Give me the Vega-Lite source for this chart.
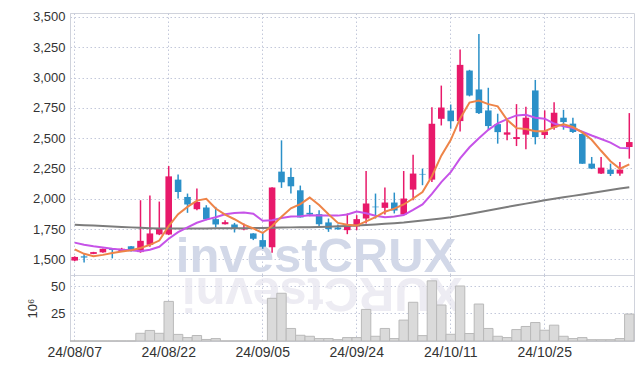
{
  "$schema": "https://vega.github.io/schema/vega-lite/v6.json",
  "background": "white",
  "padding": {"left": 26, "top": 10, "right": 5, "bottom": 5},
  "spacing": 0,
  "bounds": "flush",
  "config": {
    "font": "Liberation Sans",
    "view": {"stroke": "#d0d3dc", "strokeWidth": 1},
    "axis": {"domainColor": "#d0d3dc", "gridColor": "#c3c8da", "gridDash": [1.5, 2.5], "gridWidth": 1, "ticks": false, "labelColor": "#333", "labelFontSize": 13, "labelPadding": 5, "titleFontWeight": "normal", "labelOverlap": false, "labelSeparation": 0},
    "axisY": {"labelOverlap": false},
    "axisQuantitative": {"labelOverlap": false}
  },
  "datasets": {
    "p": [
      {"d":"24/08/07","o":1490,"h":1525,"l":1485,"c":1520,"v":0.1,"ma5":1582,"ma10":1638,"ma60":1785},
      {"d":"24/08/08","o":1525,"h":1545,"l":1475,"c":1515,"v":0.1,"ma5":1546,"ma10":1620,"ma60":1782},
      {"d":"24/08/09","o":1545,"h":1562,"l":1543,"c":1560,"v":0.1,"ma5":1525,"ma10":1608,"ma60":1779},
      {"d":"24/08/12","o":1558,"h":1590,"l":1555,"c":1587,"v":0.1,"ma5":1537,"ma10":1598,"ma60":1776},
      {"d":"24/08/13","o":1585,"h":1590,"l":1508,"c":1577,"v":0.1,"ma5":1552,"ma10":1588,"ma60":1772},
      {"d":"24/08/14","o":1570,"h":1595,"l":1565,"c":1587,"v":0.1,"ma5":1565,"ma10":1580,"ma60":1768},
      {"d":"24/08/16","o":1608,"h":1610,"l":1565,"c":1568,"v":0.1,"ma5":1576,"ma10":1575,"ma60":1764},
      {"d":"24/08/19","o":1560,"h":1988,"l":1555,"c":1653,"v":7,"ma5":1594,"ma10":1568,"ma60":1760},
      {"d":"24/08/20","o":1620,"h":2027,"l":1604,"c":1714,"v":9.6,"ma5":1620,"ma10":1580,"ma60":1757},
      {"d":"24/08/21","o":1706,"h":1977,"l":1700,"c":1755,"v":7,"ma5":1655,"ma10":1604,"ma60":1755},
      {"d":"24/08/22","o":1705,"h":2270,"l":1700,"c":2185,"v":36,"ma5":1775,"ma10":1670,"ma60":1754},
      {"d":"24/08/23","o":2158,"h":2200,"l":2002,"c":2056,"v":6,"ma5":1873,"ma10":1724,"ma60":1754},
      {"d":"24/08/26","o":2015,"h":2043,"l":1884,"c":1953,"v":3.1,"ma5":1933,"ma10":1764,"ma60":1754},
      {"d":"24/08/27","o":1914,"h":2084,"l":1906,"c":1974,"v":5,"ma5":1985,"ma10":1802,"ma60":1755},
      {"d":"24/08/28","o":1928,"h":1947,"l":1823,"c":1830,"v":1.4,"ma5":2000,"ma10":1828,"ma60":1755},
      {"d":"24/08/29","o":1832,"h":1933,"l":1763,"c":1788,"v":2.2,"ma5":1920,"ma10":1848,"ma60":1756},
      {"d":"24/08/30","o":1790,"h":1823,"l":1787,"c":1807,"v":0.1,"ma5":1870,"ma10":1872,"ma60":1756},
      {"d":"24/09/02","o":1788,"h":1801,"l":1722,"c":1756,"v":0.1,"ma5":1831,"ma10":1882,"ma60":1757},
      {"d":"24/09/03","o":1747,"h":1796,"l":1741,"c":1752,"v":0.1,"ma5":1787,"ma10":1886,"ma60":1757},
      {"d":"24/09/04","o":1714,"h":1716,"l":1659,"c":1670,"v":0.1,"ma5":1755,"ma10":1877,"ma60":1758},
      {"d":"24/09/05","o":1659,"h":1727,"l":1587,"c":1604,"v":0.1,"ma5":1718,"ma10":1819,"ma60":1759},
      {"d":"24/09/06","o":1600,"h":2095,"l":1555,"c":2093,"v":38.8,"ma5":1775,"ma10":1823,"ma60":1761},
      {"d":"24/09/09","o":2224,"h":2482,"l":2090,"c":2136,"v":43.4,"ma5":1851,"ma10":1841,"ma60":1763},
      {"d":"24/09/10","o":2180,"h":2257,"l":2043,"c":2103,"v":11.4,"ma5":1921,"ma10":1854,"ma60":1764},
      {"d":"24/09/11","o":2070,"h":2109,"l":1846,"c":1846,"v":5.2,"ma5":1956,"ma10":1856,"ma60":1765},
      {"d":"24/09/12","o":1884,"h":1949,"l":1856,"c":1870,"v":4.3,"ma5":2010,"ma10":1864,"ma60":1766},
      {"d":"24/09/13","o":1873,"h":1906,"l":1768,"c":1790,"v":2.2,"ma5":1949,"ma10":1862,"ma60":1768},
      {"d":"24/09/19","o":1805,"h":1837,"l":1727,"c":1750,"v":2.2,"ma5":1872,"ma10":1861,"ma60":1770},
      {"d":"24/09/20","o":1763,"h":1788,"l":1745,"c":1748,"v":1.2,"ma5":1801,"ma10":1861,"ma60":1773},
      {"d":"24/09/23","o":1741,"h":1879,"l":1708,"c":1774,"v":3.1,"ma5":1786,"ma10":1871,"ma60":1776},
      {"d":"24/09/24","o":1772,"h":1865,"l":1741,"c":1832,"v":3.1,"ma5":1779,"ma10":1894,"ma60":1780},
      {"d":"24/09/25","o":1837,"h":2229,"l":1796,"c":1961,"v":28.7,"ma5":1813,"ma10":1881,"ma60":1784},
      {"d":"24/09/26","o":1935,"h":2043,"l":1837,"c":1930,"v":4.3,"ma5":1849,"ma10":1860,"ma60":1788},
      {"d":"24/09/27","o":1925,"h":2093,"l":1870,"c":1969,"v":11.4,"ma5":1893,"ma10":1847,"ma60":1793},
      {"d":"24/09/30","o":1969,"h":2051,"l":1879,"c":1903,"v":2.2,"ma5":1919,"ma10":1853,"ma60":1798},
      {"d":"24/10/02","o":1870,"h":2229,"l":1866,"c":2002,"v":19,"ma5":1953,"ma10":1866,"ma60":1804},
      {"d":"24/10/04","o":2076,"h":2364,"l":1988,"c":2208,"v":35.2,"ma5":2002,"ma10":1908,"ma60":1812},
      {"d":"24/10/07","o":2205,"h":2249,"l":2112,"c":2200,"v":4.9,"ma5":2056,"ma10":1953,"ma60":1820},
      {"d":"24/10/08","o":2158,"h":2756,"l":2139,"c":2619,"v":54.7,"ma5":2186,"ma10":2040,"ma60":1828},
      {"d":"24/10/10","o":2660,"h":2934,"l":2605,"c":2753,"v":32.7,"ma5":2356,"ma10":2138,"ma60":1837},
      {"d":"24/10/11","o":2728,"h":2778,"l":2578,"c":2640,"v":6.1,"ma5":2484,"ma10":2219,"ma60":1847},
      {"d":"24/10/14","o":2641,"h":3231,"l":2556,"c":3105,"v":50,"ma5":2663,"ma10":2333,"ma60":1861},
      {"d":"24/10/15","o":3058,"h":3064,"l":2845,"c":2852,"v":6.8,"ma5":2794,"ma10":2425,"ma60":1875},
      {"d":"24/10/16","o":2902,"h":3360,"l":2700,"c":2707,"v":33.6,"ma5":2811,"ma10":2499,"ma60":1889},
      {"d":"24/10/17","o":2729,"h":2916,"l":2572,"c":2600,"v":11.4,"ma5":2781,"ma10":2569,"ma60":1903},
      {"d":"24/10/18","o":2616,"h":2702,"l":2455,"c":2550,"v":4.3,"ma5":2763,"ma10":2623,"ma60":1918},
      {"d":"24/10/21","o":2529,"h":2647,"l":2482,"c":2548,"v":3.1,"ma5":2651,"ma10":2657,"ma60":1932},
      {"d":"24/10/22","o":2493,"h":2781,"l":2435,"c":2509,"v":10.4,"ma5":2583,"ma10":2688,"ma60":1946},
      {"d":"24/10/23","o":2529,"h":2759,"l":2408,"c":2669,"v":13.2,"ma5":2575,"ma10":2693,"ma60":1960},
      {"d":"24/10/24","o":2894,"h":2981,"l":2449,"c":2509,"v":16.8,"ma5":2557,"ma10":2669,"ma60":1974},
      {"d":"24/10/25","o":2526,"h":2729,"l":2496,"c":2556,"v":9.8,"ma5":2558,"ma10":2661,"ma60":1988},
      {"d":"24/10/28","o":2587,"h":2797,"l":2570,"c":2710,"v":14.4,"ma5":2591,"ma10":2621,"ma60":2000},
      {"d":"24/10/29","o":2669,"h":2734,"l":2570,"c":2633,"v":4.3,"ma5":2615,"ma10":2599,"ma60":2012},
      {"d":"24/10/30","o":2620,"h":2669,"l":2542,"c":2551,"v":2.2,"ma5":2592,"ma10":2584,"ma60":2024},
      {"d":"24/10/31","o":2534,"h":2540,"l":2288,"c":2290,"v":3.1,"ma5":2548,"ma10":2553,"ma60":2036},
      {"d":"24/11/01","o":2290,"h":2345,"l":2245,"c":2249,"v":1.2,"ma5":2487,"ma10":2522,"ma60":2048},
      {"d":"24/11/04","o":2208,"h":2345,"l":2205,"c":2257,"v":1.2,"ma5":2396,"ma10":2493,"ma60":2060},
      {"d":"24/11/05","o":2241,"h":2290,"l":2188,"c":2205,"v":1.2,"ma5":2310,"ma10":2463,"ma60":2072},
      {"d":"24/11/06","o":2208,"h":2303,"l":2191,"c":2241,"v":2.2,"ma5":2248,"ma10":2420,"ma60":2084},
      {"d":"24/11/07","o":2427,"h":2707,"l":2331,"c":2468,"v":24.5,"ma5":2284,"ma10":2416,"ma60":2096}
    ]
  },
  "vconcat": [
    {
      "width": 564,
      "height": 262,
      "data": {"name": "p"},
      "encoding": {
        "x": {"field": "d", "type": "ordinal", "scale": {"type": "band", "paddingInner": 0, "paddingOuter": 0},
          "axis": {"values": ["24/08/07","24/08/22","24/09/05","24/09/24","24/10/11","24/10/25"], "labels": false, "title": null, "grid": true, "domain": false}}
      },
      "layer": [
        {
          "data": {"values": [{"t": "investCRUX", "d": "24/09/13", "y": 1395}]},
          "mark": {"type": "text", "font": "Liberation Sans", "fontWeight": "bold", "fontSize": 49, "color": "#d2d8e8", "align": "center", "baseline": "alphabetic", "dx": -3},
          "encoding": {
            "y": {"field": "y", "type": "quantitative", "scale": {"domain": [1371, 3533], "nice": false, "zero": false},
              "axis": {"values": [1500,1750,2000,2250,2500,2750,3000,3250,3500], "format": ",.0f", "title": null, "grid": true, "labelOverlap": false, "labelSeparation": 0}},
            "text": {"field": "t"}
          }
        },
        {
          "mark": {"type": "rule", "strokeWidth": 1.5},
          "encoding": {
            "y": {"field": "l", "type": "quantitative",
              "axis": {"values": [1500,1750,2000,2250,2500,2750,3000,3250,3500], "format": ",.0f", "title": null, "grid": true, "labelOverlap": false, "labelSeparation": 0}},
            "y2": {"field": "h"},
            "color": {"condition": {"test": "datum.c >= datum.o", "value": "#e8196a"}, "value": "#2b90c8"}
          }
        },
        {
          "mark": {"type": "bar", "width": {"band": 0.7}},
          "encoding": {
            "y": {"field": "o", "type": "quantitative",
              "axis": {"values": [1500,1750,2000,2250,2500,2750,3000,3250,3500], "format": ",.0f", "title": null, "grid": true, "labelOverlap": false, "labelSeparation": 0}},
            "y2": {"field": "c"},
            "color": {"condition": {"test": "datum.c >= datum.o", "value": "#e8196a"}, "value": "#2b90c8"}
          }
        },
        {
          "mark": {"type": "line", "color": "#7c7c7c", "strokeWidth": 2},
          "encoding": {"y": {"field": "ma60", "type": "quantitative",
            "axis": {"values": [1500,1750,2000,2250,2500,2750,3000,3250,3500], "format": ",.0f", "title": null, "grid": true, "labelOverlap": false, "labelSeparation": 0}}}
        },
        {
          "mark": {"type": "line", "color": "#c653e8", "strokeWidth": 2},
          "encoding": {"y": {"field": "ma10", "type": "quantitative",
            "axis": {"values": [1500,1750,2000,2250,2500,2750,3000,3250,3500], "format": ",.0f", "title": null, "grid": true, "labelOverlap": false, "labelSeparation": 0}}}
        },
        {
          "mark": {"type": "line", "color": "#ee8448", "strokeWidth": 2},
          "encoding": {"y": {"field": "ma5", "type": "quantitative",
            "axis": {"values": [1500,1750,2000,2250,2500,2750,3000,3250,3500], "format": ",.0f", "title": null, "grid": true, "labelOverlap": false, "labelSeparation": 0}}}
        }
      ]
    },
    {
      "width": 564,
      "height": 66,
      "data": {"name": "p"},
      "encoding": {
        "x": {"field": "d", "type": "ordinal", "scale": {"type": "band", "paddingInner": 0, "paddingOuter": 0},
          "axis": {"values": ["24/08/07","24/08/22","24/09/05","24/09/24","24/10/11","24/10/25"], "labelAngle": 0, "labelFontSize": 14, "labelPadding": 4, "title": null, "grid": true}}
      },
      "layer": [
        {
          "data": {"values": [{"t": "XURCtsevni", "d": "24/09/13", "y": 57.5}]},
          "mark": {"type": "text", "font": "Liberation Sans", "fontWeight": "bold", "fontSize": 49, "color": "#e6e4ee", "opacity": 0.7, "align": "center", "baseline": "alphabetic", "angle": 180, "dx": -3, "clip": true},
          "encoding": {
            "y": {"field": "y", "type": "quantitative", "scale": {"domain": [0, 60], "nice": false},
              "axis": {"values": [25, 50], "title": "10⁶", "titleFontSize": 13, "titleColor": "#333", "titlePadding": 11, "grid": true}},
            "text": {"field": "t"}
          }
        },
        {
          "mark": {"type": "bar", "width": {"band": 1}, "color": "#dadada", "stroke": "#b9b9b9", "strokeWidth": 1},
          "encoding": {
            "y": {"field": "v", "type": "quantitative"}
          }
        }
      ]
    }
  ]
}
